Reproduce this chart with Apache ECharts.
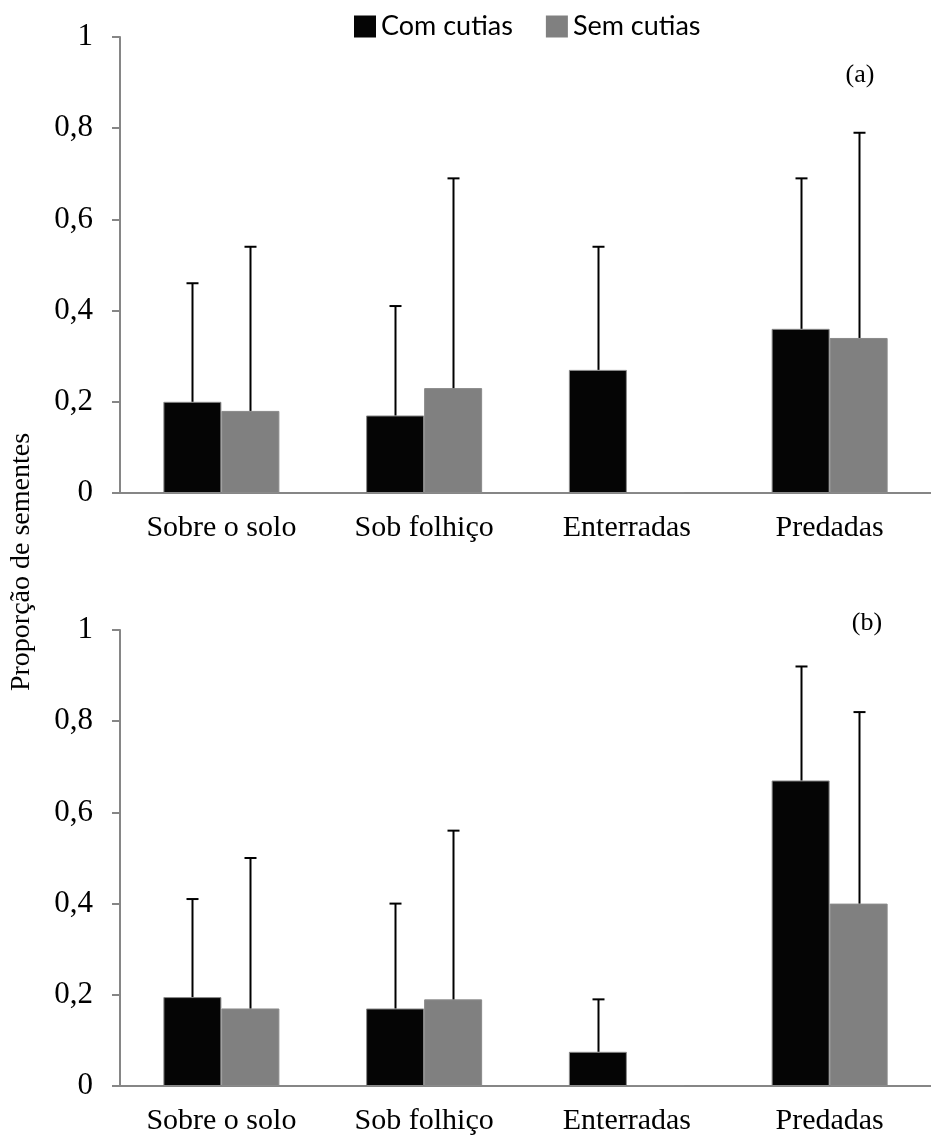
<!DOCTYPE html>
<html>
<head>
<meta charset="utf-8">
<script src="https://cdn.jsdelivr.net/npm/echarts@6/dist/echarts.min.js"></script>
<style>
html,body{margin:0;padding:0;background:#fff;}
#chart{width:931px;height:1141px;}
</style>
</head>
<body>
<div id="chart"></div>
<script>
// ---- data ----
const categories = ['Sobre o solo', 'Sob folhiço', 'Enterradas', 'Predadas'];
const seriesNames = ['Com cutias', 'Sem cutias'];
const yTicks = [0, 0.2, 0.4, 0.6, 0.8, 1];
const panelLabels = ['(a)', '(b)'];
const axisTitle = 'Proporção de sementes';

// panel (a)
const comA = [0.20, 0.17, 0.27, 0.36];
const semA = [0.18, 0.23, 0, 0.34];
const comAUpper = [0.46, 0.41, 0.54, 0.69];
const semAUpper = [0.54, 0.69, null, 0.79];

// panel (b)
const comB = [0.195, 0.17, 0.075, 0.67];
const semB = [0.17, 0.19, 0, 0.40];
const comBUpper = [0.41, 0.40, 0.19, 0.92];
const semBUpper = [0.50, 0.56, null, 0.82];

// ---- style ----
const BAR_W = 58;
const SERIF = '"Liberation Serif", "Times New Roman", serif';
const AXIS_COLOR = '#868686';
const COLORS = ['#050505', '#808080'];

const chart = echarts.init(document.getElementById('chart'));

function errSeries(name, grid, means, uppers, offset) {
  const data = [];
  means.forEach((m, i) => { if (uppers[i] != null) data.push([i, m, uppers[i]]); });
  return {
    type: 'custom',
    name: name + ' err',
    xAxisIndex: grid, yAxisIndex: grid,
    z: 5,
    silent: true,
    data: data,
    renderItem: function (params, api) {
      const p0 = api.coord([api.value(0), api.value(1)]);
      const p1 = api.coord([api.value(0), api.value(2)]);
      const x = Math.round(p0[0] + offset) + 0.5;
      const st = { stroke: '#000', lineWidth: 2 };
      return {
        type: 'group',
        children: [
          { type: 'line', shape: { x1: x, y1: p0[1], x2: x, y2: p1[1] }, style: st },
          { type: 'line', shape: { x1: x - 6, y1: p1[1], x2: x + 6, y2: p1[1] }, style: st }
        ]
      };
    }
  };
}

function barSeries(name, grid, values, color) {
  return {
    type: 'bar', name: name,
    xAxisIndex: grid, yAxisIndex: grid,
    data: values,
    barWidth: BAR_W,
    barGap: '0%',
    barMinHeight: 1,
    itemStyle: { color: color, borderColor: '#8a8a8a', borderWidth: 1 }
  };
}

function xAxis(grid) {
  return {
    type: 'category', gridIndex: grid, data: categories,
    axisLine: { lineStyle: { color: AXIS_COLOR, width: 2 } },
    axisTick: { length: 8, lineStyle: { color: AXIS_COLOR, width: 2 } },
    axisLabel: { color: '#000', fontFamily: SERIF, fontSize: 30, margin: 20 }
  };
}

function yAxis(grid) {
  return {
    type: 'value', gridIndex: grid, min: 0, max: 1, interval: 0.2,
    axisLine: { show: true, lineStyle: { color: AXIS_COLOR, width: 2 } },
    axisTick: { show: true, length: 8, lineStyle: { color: AXIS_COLOR, width: 2 } },
    splitLine: { show: false },
    axisLabel: {
      color: '#000', fontFamily: SERIF, fontSize: 31, margin: 27,
      formatter: v => String(Math.round(v * 10) / 10).replace('.', ',')
    }
  };
}

const option = {
  animation: false,
  backgroundColor: '#fff',
  legend: {
    data: seriesNames,
    left: 349, top: 8,
    icon: 'rect',
    itemWidth: 22, itemHeight: 22,
    itemGap: 33,
    itemStyle: { borderWidth: 0 },
    textStyle: { fontFamily: 'Lato, "Noto Sans", sans-serif', fontSize: 27, color: '#000' }
  },
  grid: [
    { left: 120, top: 37, height: 456, right: -6 },
    { left: 120, top: 630, height: 456, right: -6 }
  ],
  xAxis: [xAxis(0), xAxis(1)],
  yAxis: [yAxis(0), yAxis(1)],
  series: [
    barSeries(seriesNames[0], 0, comA, COLORS[0]),
    barSeries(seriesNames[1], 0, semA, COLORS[1]),
    barSeries(seriesNames[0], 1, comB, COLORS[0]),
    barSeries(seriesNames[1], 1, semB, COLORS[1]),
    errSeries(seriesNames[0], 0, comA, comAUpper, -BAR_W / 2),
    errSeries(seriesNames[1], 0, semA, semAUpper, BAR_W / 2),
    errSeries(seriesNames[0], 1, comB, comBUpper, -BAR_W / 2),
    errSeries(seriesNames[1], 1, semB, semBUpper, BAR_W / 2)
  ],
  graphic: [
    {
      type: 'text', x: 22, y: 562, rotation: Math.PI / 2,
      style: { text: axisTitle, font: '28px ' + SERIF, fill: '#000', textAlign: 'center', textVerticalAlign: 'middle' }
    },
    {
      type: 'text', x: 860, y: 75,
      style: { text: panelLabels[0], font: '26px ' + SERIF, fill: '#000', textAlign: 'center', textVerticalAlign: 'middle' }
    },
    {
      type: 'text', x: 867, y: 623,
      style: { text: panelLabels[1], font: '26px ' + SERIF, fill: '#000', textAlign: 'center', textVerticalAlign: 'middle' }
    }
  ]
};
chart.setOption(option);
</script>
</body>
</html>
